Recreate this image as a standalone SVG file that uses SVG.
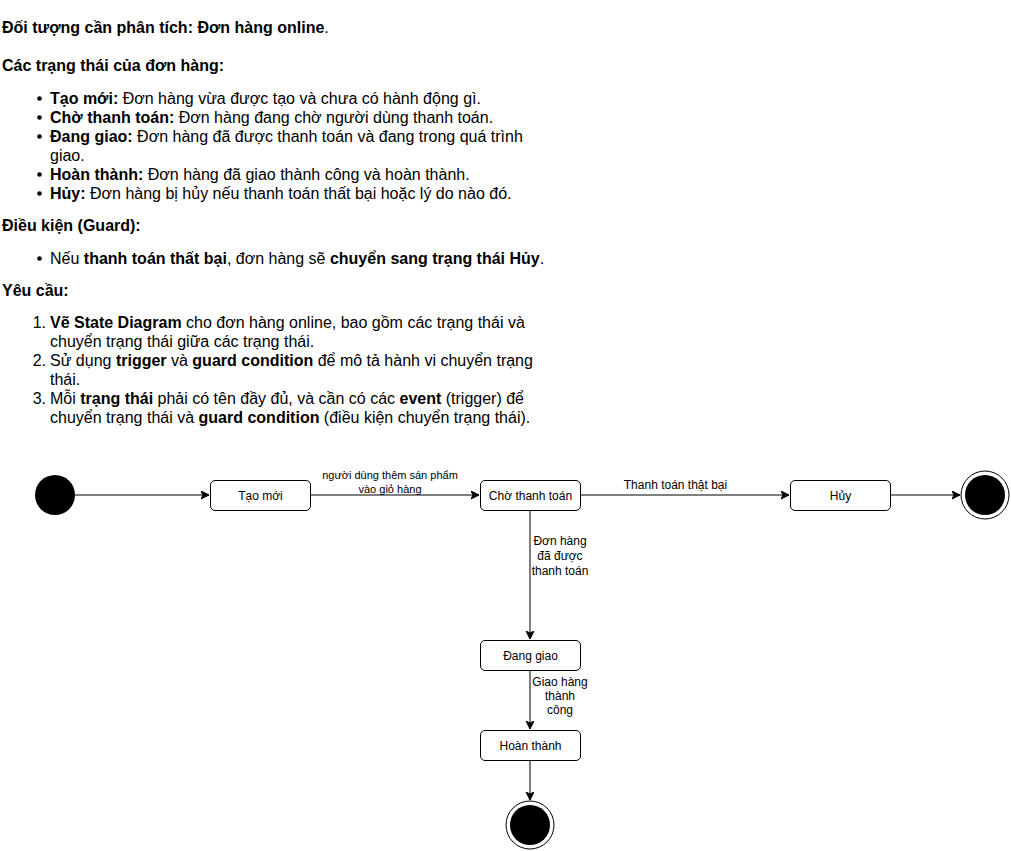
<svg xmlns="http://www.w3.org/2000/svg" width="1011" height="851" viewBox="0 0 1011 851">
<style>
text{font-family:"Liberation Sans",Arial,sans-serif;fill:#000}
.t{font-size:16px}
.b{font-weight:bold}
.n{font-size:12px;text-anchor:middle}
.l11{font-size:11px;text-anchor:middle}
.l12{font-size:12px;text-anchor:middle}
.box{fill:#fff;stroke:#000;stroke-width:1}
.edge{fill:none;stroke:#000;stroke-width:1}
</style>
<defs>
<marker id="arr" markerUnits="userSpaceOnUse" markerWidth="10" markerHeight="10" refX="8" refY="4" orient="auto">
<path d="M0,0 L8,4 L0,8 L2,4 Z" fill="#000" stroke="#000" stroke-width="1"/>
</marker>
</defs>
<rect width="1011" height="851" fill="#fff"/>
<g id="description">
<text class="t" x="2" y="33"><tspan class="b">Đối tượng cần phân tích: Đơn hàng online</tspan>.</text>
<text class="t b" x="2" y="71">Các trạng thái của đơn hàng:</text>
<g id="bullets">
<circle cx="39.5" cy="98.5" r="2.3"/>
<circle cx="39.5" cy="117.5" r="2.3"/>
<circle cx="39.5" cy="136.5" r="2.3"/>
<circle cx="39.5" cy="174.5" r="2.3"/>
<circle cx="39.5" cy="193.5" r="2.3"/>
<circle cx="39.5" cy="258.5" r="2.3"/>
</g>
<text class="t" x="50" y="104"><tspan class="b">Tạo mới:</tspan> Đơn hàng vừa được tạo và chưa có hành động gì.</text>
<text class="t" x="50" y="123"><tspan class="b">Chờ thanh toán:</tspan> Đơn hàng đang chờ người dùng thanh toán.</text>
<text class="t" x="50" y="142"><tspan class="b">Đang giao:</tspan> Đơn hàng đã được thanh toán và đang trong quá trình</text>
<text class="t" x="50" y="161">giao.</text>
<text class="t" x="50" y="180"><tspan class="b">Hoàn thành:</tspan> Đơn hàng đã giao thành công và hoàn thành.</text>
<text class="t" x="50" y="199"><tspan class="b">Hủy:</tspan> Đơn hàng bị hủy nếu thanh toán thất bại hoặc lý do nào đó.</text>
<text class="t b" x="2" y="231">Điều kiện (Guard):</text>
<text class="t" x="50" y="264">Nếu <tspan class="b">thanh toán thất bại</tspan>, đơn hàng sẽ <tspan class="b">chuyển sang trạng thái Hủy</tspan>.</text>
<text class="t b" x="2" y="296">Yêu cầu:</text>
<text class="t" x="46" y="328" text-anchor="end">1.</text>
<text class="t" x="50" y="328"><tspan class="b">Vẽ State Diagram</tspan> cho đơn hàng online, bao gồm các trạng thái và</text>
<text class="t" x="50" y="347">chuyển trạng thái giữa các trạng thái.</text>
<text class="t" x="46" y="366" text-anchor="end">2.</text>
<text class="t" x="50" y="366">Sử dụng <tspan class="b">trigger</tspan> và <tspan class="b">guard condition</tspan> để mô tả hành vi chuyển trạng</text>
<text class="t" x="50" y="385">thái.</text>
<text class="t" x="46" y="404" text-anchor="end">3.</text>
<text class="t" x="50" y="404">Mỗi <tspan class="b">trạng thái</tspan> phải có tên đầy đủ, và cần có các <tspan class="b">event</tspan> (trigger) để</text>
<text class="t" x="50" y="423">chuyển trạng thái và <tspan class="b">guard condition</tspan> (điều kiện chuyển trạng thái).</text>
</g>
<g id="connectors">
<line class="edge" x1="75" y1="495" x2="209" y2="495" marker-end="url(#arr)"/>
<line class="edge" x1="310" y1="495" x2="479" y2="495" marker-end="url(#arr)"/>
<line class="edge" x1="580" y1="495" x2="789" y2="495" marker-end="url(#arr)"/>
<line class="edge" x1="890" y1="495" x2="960" y2="495" marker-end="url(#arr)"/>
<line class="edge" x1="530" y1="510" x2="530" y2="639" marker-end="url(#arr)"/>
<line class="edge" x1="530" y1="670" x2="530" y2="729" marker-end="url(#arr)"/>
<line class="edge" x1="530" y1="760" x2="530" y2="800" marker-end="url(#arr)"/>
<text class="l11" x="390" y="479">người dùng thêm sán phẩm</text>
<text class="l11" x="390" y="493">vào giỏ hàng</text>
<text class="l12" x="675.5" y="489">Thanh toán thật bại</text>
<text class="l12" x="560" y="545">Đơn hàng</text>
<text class="l12" x="560" y="560">đã được</text>
<text class="l12" x="560" y="574.5">thanh toán</text>
<text class="l12" x="560" y="686">Giao hàng</text>
<text class="l12" x="560" y="700">thành</text>
<text class="l12" x="560" y="714">công</text>
</g>
<g id="start"><circle cx="55" cy="495" r="20" fill="#000"/></g>
<g id="tao-moi"><rect class="box" x="210.5" y="480.5" width="100" height="30" rx="4.5"/><text class="n" x="260.5" y="499.5">Tạo mới</text></g>
<g id="cho-thanh-toan"><rect class="box" x="480.5" y="480.5" width="100" height="30" rx="4.5"/><text class="n" x="530.5" y="499.5">Chờ thanh toán</text></g>
<g id="huy"><rect class="box" x="790.5" y="480.5" width="100" height="30" rx="4.5"/><text class="n" x="840.5" y="499.5">Hủy</text></g>
<g id="end-right"><circle cx="985" cy="495" r="24" fill="#fff" stroke="#000"/><circle cx="985" cy="495" r="20" fill="#000"/></g>
<g id="dang-giao"><rect class="box" x="480.5" y="640.5" width="100" height="30" rx="4.5"/><text class="n" x="530.5" y="659.5">Đang giao</text></g>
<g id="hoan-thanh"><rect class="box" x="480.5" y="730.5" width="100" height="30" rx="4.5"/><text class="n" x="530.5" y="749.5">Hoàn thành</text></g>
<g id="end-bottom"><circle cx="530" cy="825" r="24" fill="#fff" stroke="#000"/><circle cx="530" cy="825" r="20" fill="#000"/></g>
</svg>
